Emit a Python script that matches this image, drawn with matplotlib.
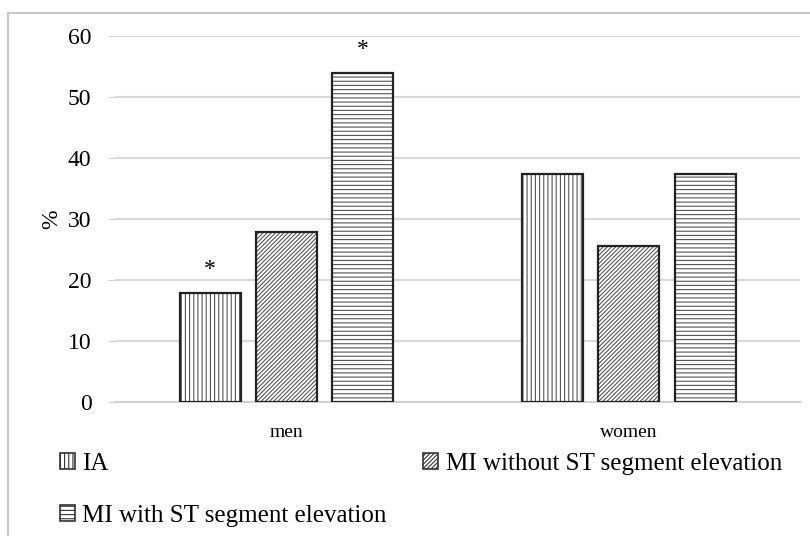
import numpy as np
import matplotlib
matplotlib.use('Agg')
import matplotlib.pyplot as plt
from matplotlib.patches import Rectangle

categories = ['men', 'women']
series_names = ['IA', 'MI without ST segment elevation', 'MI with ST segment elevation']
ia = [17.8, 37.3]
mi_without = [27.8, 25.5]
mi_with = [53.9, 37.3]
stars = [(0, 17.8), (2, 53.9)]  # (series index, value) for men

plt.rcParams['font.family'] = ['Liberation Serif', 'DejaVu Serif']
plt.rcParams['hatch.linewidth'] = 0.8

fig = plt.figure(figsize=(8.1, 5.36), dpi=100)
ax = fig.add_axes([0.142, 0.25, 0.846, 0.683])

# рамка вокруг рисунка (обрезана справа и снизу)
fig.patches.append(Rectangle((8 / 810, -0.1), 1.2, 1 - 13 / 536 + 0.1,
                             transform=fig.transFigure, fill=False,
                             edgecolor='#c8c8c8', linewidth=1.5))

x = np.arange(len(categories))
width = 0.178
offs = [-0.222, 0.0, 0.222]
hatches = ['||||', '////////', '----']
handles = []
for i, (vals, h) in enumerate(zip([ia, mi_without, mi_with], hatches)):
    ax.bar(x + offs[i], vals, width, color='white', edgecolor='#555555',
           hatch=h, linewidth=0, zorder=3)
    ax.bar(x + offs[i], vals, width, fill=False, edgecolor='#222222',
           linewidth=1.6, zorder=4)
    handles.append(Rectangle((0, 0), 1, 1, facecolor='white',
                             edgecolor='#333333', hatch=h, linewidth=1.2))

for s, v in stars:
    ax.text(0 + offs[s], v + 2.2, '*', ha='center', va='bottom', fontsize=17)

ax.set_xlim(-0.5, 1.5)
ax.set_ylim(0, 60)
ax.set_yticks(range(0, 61, 10))
ax.set_xticks(x)
ax.set_xticklabels(categories, fontsize=14)
ax.tick_params(axis='x', length=0, pad=16)
ax.tick_params(axis='y', labelsize=17, length=5, color='#d0d0d0', pad=12)
ax.set_ylabel('%', fontsize=17, labelpad=4)

ax.grid(axis='y', color='#d9d9d9', linewidth=1.5, zorder=0)
for sp in ['top', 'right', 'left']:
    ax.spines[sp].set_visible(False)
ax.spines['bottom'].set_color('#d0d0d0')
ax.spines['bottom'].set_linewidth(1.5)

order = [0, 2, 1]
fig.legend([handles[i] for i in order], [series_names[i] for i in order],
           ncol=2, loc='upper left', bbox_to_anchor=(0.074, 0.155),
           frameon=False, fontsize=18, handlelength=0.6, handleheight=0.6,
           handletextpad=0.3, labelspacing=1.2, columnspacing=1.45,
           borderaxespad=0, borderpad=0)

fig.savefig('out.png', dpi=100)
